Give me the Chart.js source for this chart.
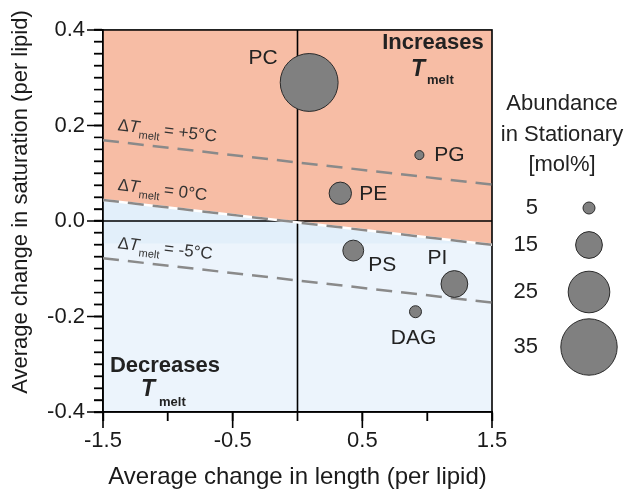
<!DOCTYPE html>
<html>
<head>
<meta charset="utf-8">
<script src="https://cdn.jsdelivr.net/npm/chart.js@4.4.0/dist/chart.umd.min.js"></script>
<style>
  html, body { margin: 0; padding: 0; background: #fff; }
</style>
</head>
<body>
<canvas id="chart" width="635" height="495"></canvas>
<script>
// lipid classes and their changes (stationary vs exponential)
const lipids = ['PC', 'PG', 'PE', 'PS', 'PI', 'DAG'];
const lengthChange = [0.09, 0.94, 0.33, 0.43, 1.21, 0.91];
const satChange = [0.290, 0.138, 0.058, -0.062, -0.132, -0.190];
const abundance = [36, 3, 12, 11, 15, 5];

// iso-Tmelt lines, value at x = -1.5 and x = 1.5
const isoNames = ['+5°C', '0°C', '-5°C'];
const isoLeft = [0.169, 0.044, -0.078];
const isoRight = [0.076, -0.050, -0.171];
const bandBottom = [-0.047, -0.047];

const legendValues = [5, 15, 25, 35];

const xTickLabels = [-1.5, -0.5, 0.5, 1.5];
const xMinorTicks = [-1.5, -1.0, -0.5, 0.0, 0.5, 1.0, 1.5];
const yTickLabels = [-0.4, -0.2, 0.0, 0.2, 0.4];
// minor tick marks on y every 0.025
const yMinorTicks = [];
for (let k = -16; k <= 16; k++) yMinorTicks.push(k / 40);

const FONT = "'Liberation Sans', Arial, sans-serif";
const SALMON = '#F7BDA5';
const BLUE_LIGHT = '#ECF4FC';
const BLUE_BAND = '#E2EFFA';
const BUBBLE = '#808080';

// marker radius in px for an abundance in mol%
function radius(v) { return 2.3 + 0.74 * v; }

function near(list, v) {
  return list.some(t => Math.abs(t - v) < 1e-6);
}

const labelOffset = { PC: [-46, -24], PG: [30, 0], PE: [33, 1], PS: [29, 15], PI: [-17, -26], DAG: [-2, 26] };

const decor = {
  id: 'decor',
  beforeDraw(chart) {
    const { ctx, chartArea: a } = chart;
    ctx.save();
    ctx.fillStyle = BLUE_LIGHT;
    ctx.fillRect(a.left, a.top, a.right - a.left, a.bottom - a.top);
    ctx.restore();
  },
  beforeDatasetsDraw(chart) {
    // zero lines and the box, under the markers
    const { ctx, chartArea: a, scales: { x, y } } = chart;
    ctx.save();
    ctx.strokeStyle = '#000';
    ctx.lineWidth = 1.6;
    const x0 = x.getPixelForValue(0), y0 = y.getPixelForValue(0);
    ctx.beginPath();
    ctx.moveTo(x0, a.top); ctx.lineTo(x0, a.bottom);
    ctx.moveTo(a.left, y0); ctx.lineTo(a.right, y0);
    ctx.stroke();
    ctx.strokeRect(a.left, a.top, a.right - a.left, a.bottom - a.top);
    ctx.restore();
  },
  afterDatasetsDraw(chart) {
    const { ctx, chartArea: a, scales: { x, y } } = chart;
    ctx.save();
    ctx.fillStyle = '#222';
    ctx.textAlign = 'center';
    ctx.textBaseline = 'middle';
    ctx.font = '21px ' + FONT;
    lipids.forEach((name, i) => {
      const off = labelOffset[name];
      ctx.fillText(name, x.getPixelForValue(lengthChange[i]) + off[0], y.getPixelForValue(satChange[i]) + off[1]);
    });

    // ΔTmelt labels along each line
    isoNames.forEach((name, i) => {
      const xl = x.getPixelForValue(-1.5), xr = x.getPixelForValue(1.5);
      const yl = y.getPixelForValue(isoLeft[i]), yr = y.getPixelForValue(isoRight[i]);
      const ang = Math.atan2(yr - yl, xr - xl);
      const sx = xl + 13;
      const sy = yl + (yr - yl) * 13 / (xr - xl);
      ctx.save();
      ctx.translate(sx, sy);
      ctx.rotate(ang);
      ctx.fillStyle = '#333';
      ctx.textAlign = 'left';
      ctx.textBaseline = 'alphabetic';
      ctx.font = '17px ' + FONT;
      ctx.fillText('Δ', 0, -11.5);
      let w = ctx.measureText('Δ').width;
      ctx.font = 'italic 17px ' + FONT;
      ctx.fillText('T', w, -11.5);
      w += ctx.measureText('T').width;
      ctx.font = '11px ' + FONT;
      ctx.fillText('melt', w, -6);
      w += ctx.measureText('melt').width + 4;
      ctx.font = '17px ' + FONT;
      ctx.fillText('= ' + name, w, -11.5);
      ctx.restore();
    });

    // region labels
    ctx.fillStyle = '#222';
    ctx.font = 'bold 22px ' + FONT;
    ctx.textAlign = 'center';
    ctx.fillText('Increases', 433, 43);
    ctx.fillText('Decreases', 165, 366);
    ctx.font = 'bold italic 23px ' + FONT;
    ctx.fillText('T', 418, 70);
    ctx.fillText('T', 148, 390);
    ctx.font = 'bold 13px ' + FONT;
    ctx.textAlign = 'left';
    ctx.fillText('melt', 427, 80);
    ctx.fillText('melt', 159, 402);
    ctx.restore();
  },
  afterDraw(chart) {
    const { ctx, chartArea: a, scales: { x, y } } = chart;
    ctx.save();
    ctx.strokeStyle = '#000';
    // short ticks
    ctx.lineWidth = 1.4;
    ctx.beginPath();
    xMinorTicks.forEach(v => {
      const px = x.getPixelForValue(v);
      ctx.moveTo(px, a.bottom); ctx.lineTo(px, a.bottom + 9);
    });
    yMinorTicks.forEach(v => {
      const py = y.getPixelForValue(v);
      ctx.moveTo(a.left - 9, py); ctx.lineTo(a.left, py);
    });
    ctx.stroke();
    // long ticks on the labelled values
    ctx.lineWidth = 1.6;
    ctx.beginPath();
    xTickLabels.forEach(v => {
      const px = x.getPixelForValue(v);
      ctx.moveTo(px, a.bottom); ctx.lineTo(px, a.bottom + 16);
    });
    yTickLabels.forEach(v => {
      const py = y.getPixelForValue(v);
      ctx.moveTo(a.left - 16, py); ctx.lineTo(a.left, py);
    });
    ctx.stroke();

    // y axis title, sits a little above the axis middle
    ctx.fillStyle = '#1a1a1a';
    ctx.font = '22px ' + FONT;
    ctx.textAlign = 'center';
    ctx.textBaseline = 'middle';
    ctx.save();
    ctx.translate(21, 202);
    ctx.rotate(-Math.PI / 2);
    ctx.fillText('Average change in saturation (per lipid)', 0, 0);
    ctx.restore();

    // size legend
    ctx.fillStyle = '#222';
    ctx.font = '22px ' + FONT;
    ctx.fillText('Abundance', 562, 104);
    ctx.fillText('in Stationary', 562, 135);
    ctx.fillText('[mol%]', 562, 165);
    const rowY = [208, 245, 292, 347];
    legendValues.forEach((v, i) => {
      ctx.fillStyle = '#222';
      ctx.textAlign = 'right';
      ctx.fillText(String(v), 538, rowY[i]);
      ctx.beginPath();
      ctx.arc(589, rowY[i], radius(v), 0, Math.PI * 2);
      ctx.fillStyle = BUBBLE;
      ctx.fill();
      ctx.strokeStyle = '#2b2b2b';
      ctx.lineWidth = 1;
      ctx.stroke();
    });
    ctx.restore();
  }
};

const dashStyle = {
  type: 'line', borderColor: '#8a8a8a', borderWidth: 2.5, borderDash: [16, 9],
  pointRadius: 0, fill: false, order: 1
};

const datasets = [
  {
    type: 'bubble',
    data: lipids.map((n, i) => ({ x: lengthChange[i], y: satChange[i], r: radius(abundance[i]) })),
    backgroundColor: BUBBLE, borderColor: '#2b2b2b', borderWidth: 1, order: 0
  }
];
isoNames.forEach((n, i) => {
  datasets.push(Object.assign({}, dashStyle, {
    data: [{ x: -1.5, y: isoLeft[i] }, { x: 1.5, y: isoRight[i] }]
  }));
});
// white line under the 0°C dashes
datasets.push({
  type: 'line', borderColor: '#ffffff', borderWidth: 2.5, pointRadius: 0, fill: false, order: 2,
  data: [{ x: -1.5, y: isoLeft[1] }, { x: 1.5, y: isoRight[1] }]
});
const zeroFillIndex = datasets.length;
datasets.push({
  type: 'line', borderColor: 'rgba(0,0,0,0)', borderWidth: 0, pointRadius: 0, order: 3,
  data: [{ x: -1.5, y: isoLeft[1] }, { x: 1.5, y: isoRight[1] }],
  fill: 'end', backgroundColor: SALMON
});
datasets.push({
  type: 'line', borderColor: 'rgba(0,0,0,0)', borderWidth: 0, pointRadius: 0, order: 4,
  data: [{ x: -1.5, y: bandBottom[0] }, { x: 1.5, y: bandBottom[1] }],
  fill: { target: zeroFillIndex, above: BLUE_BAND, below: BLUE_BAND }, backgroundColor: BLUE_BAND
});

new Chart(document.getElementById('chart'), {
  type: 'bubble',
  data: { datasets: datasets },
  options: {
    responsive: false,
    animation: false,
    devicePixelRatio: 1,
    layout: { padding: { top: 25, right: 143, left: 0, bottom: 0 } },
    plugins: {
      legend: { display: false },
      tooltip: { enabled: false },
      filler: { drawTime: 'beforeDatasetsDraw' }
    },
    scales: {
      x: {
        type: 'linear', min: -1.5, max: 1.5,
        afterFit: s => { s.height = 83; },
        ticks: {
          stepSize: 0.5, autoSkip: false, maxRotation: 0, padding: 7,
          color: '#1a1a1a', font: { family: FONT, size: 22 },
          callback: v => near(xTickLabels, v) ? v.toFixed(1) : ''
        },
        grid: { drawOnChartArea: false, tickLength: 9, tickColor: '#000', tickWidth: 1.4 },
        border: { color: '#000', width: 1.6 },
        title: {
          display: true, text: 'Average change in length (per lipid)', color: '#1a1a1a',
          font: { family: FONT, size: 24 }, padding: { bottom: 3 }
        }
      },
      y: {
        type: 'linear', min: -0.4, max: 0.4,
        afterFit: s => { s.width = 103; },
        afterBuildTicks: s => { s.ticks = yMinorTicks.map(v => ({ value: v })); },
        ticks: {
          autoSkip: false, padding: 9,
          color: '#1a1a1a', font: { family: FONT, size: 22 },
          callback: v => near(yTickLabels, v) ? (Math.round(v * 10) / 10).toFixed(1) : ''
        },
        grid: { drawOnChartArea: false, tickLength: 9, tickColor: '#000', tickWidth: 1.4 },
        border: { color: '#000', width: 1.6 },
        title: { display: false }
      }
    }
  },
  plugins: [decor]
});
</script>
</body>
</html>
